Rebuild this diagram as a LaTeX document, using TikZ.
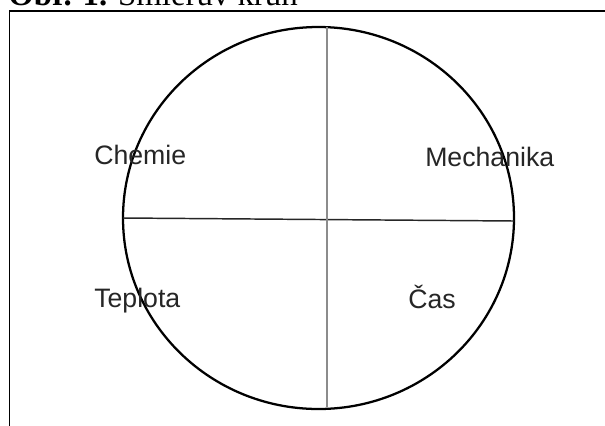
\documentclass[tikz,border=0pt]{standalone}
\usepackage{fontspec}
\setmainfont{Liberation Serif}
\newfontfamily\labelfont{Liberation Sans}
\usepackage{tikz}
\usetikzlibrary{positioning}

\begin{document}
\begin{tikzpicture}[
    x=0.75pt, y=-0.75pt,
    label/.style={
        inner sep=0pt,
        anchor=base west,
        text=black!85,
        font=\labelfont\fontsize{20}{23}\selectfont
    },
    rim/.style={draw=black, line width=1.7pt},
    axis/.style={line width=1.1pt}
]

% Page
\clip (0,0) rectangle (605,425);
\fill[white] (0,0) rectangle (605,425);

% Caption (cut off at the top)
\node[inner sep=0pt, anchor=base west, font=\fontsize{24.6}{28}\selectfont] (caption) at (8,5)
    {\textbf{Obr. 1.} Smierův kruh};

% Frame
\draw[line width=1.3pt] (9.5,700) |- (800,11);

% Circle
\draw[rim] (318.5,218) ellipse [x radius=195.5, y radius=191];

% Axes
\draw[axis, draw=black!85] (123,218) -- (514,221);
\draw[axis, draw=black!45] (327,27) -- (327,407);

% Quadrant labels
\node[label] (chem) at (94,164) {Chemie};
\node[label] (mech) at (425,166) {Mechanika};
\node[label] (tepl) at (94,307) {Teplota};
\node[label] (cas) at (408,308) {Čas};

\end{tikzpicture}
\end{document}
